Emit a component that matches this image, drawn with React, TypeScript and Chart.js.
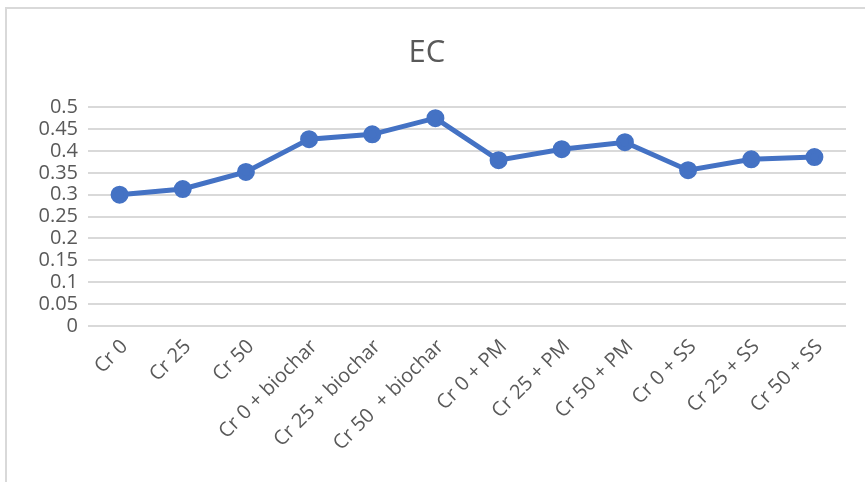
import React, { useEffect, useRef } from "react";
import { Chart, registerables } from "chart.js";

Chart.register(...registerables);

const categories = [
  "Cr 0",
  "Cr 25",
  "Cr 50",
  "Cr 0 + biochar",
  "Cr 25 + biochar",
  "Cr 50  + biochar",
  "Cr 0 + PM",
  "Cr 25 + PM",
  "Cr 50 + PM",
  "Cr 0 + SS",
  "Cr 25 + SS",
  "Cr 50 + SS",
];
const ecValues = [0.3, 0.313, 0.352, 0.427, 0.438, 0.475, 0.379, 0.404, 0.42, 0.356, 0.381, 0.386];
const titleText = "EC";
const yMin = 0;
const yMax = 0.5;
const yStep = 0.05;

const FONT = "'Open Sans', 'Noto Sans', sans-serif";

export default function App() {
  const ref = useRef<HTMLCanvasElement | null>(null);
  useEffect(() => {
    if (!ref.current) return;
    const chart = new Chart(ref.current, {
      type: "line",
      data: {
        labels: categories,
        datasets: [
          {
            label: titleText,
            data: ecValues,
            borderColor: "#4472c4",
            backgroundColor: "#4472c4",
            borderWidth: 5,
            pointRadius: 6.5,
            pointHoverRadius: 6.5,
            pointBackgroundColor: "#4472c4",
            pointBorderColor: "#4472c4",
            tension: 0,
          },
        ],
      },
      options: {
        animation: false,
        responsive: false,
        maintainAspectRatio: false,
        layout: { padding: { left: 8, right: 19, top: 0, bottom: 0 } },
        plugins: {
          legend: { display: false },
          tooltip: { enabled: false },
          title: {
            display: true,
            text: titleText,
            color: "#595959",
            font: { family: FONT, size: 31, weight: "normal" },
            padding: { top: 35, bottom: 35 },
          },
        },
        scales: {
          x: {
            offset: true,
            grid: { display: false, drawTicks: false },
            border: { display: false },
            ticks: {
              color: "#595959",
              font: { family: FONT, size: 20 },
              minRotation: 45,
              maxRotation: 45,
              autoSkip: false,
              padding: 9,
              labelOffset: 5,
            },
            afterFit: (s: any) => {
              s.height = 156;
            },
          },
          y: {
            min: yMin,
            max: yMax,
            grid: { color: "#d9d9d9", lineWidth: 2, drawTicks: false },
            border: { display: false },
            ticks: {
              stepSize: yStep,
              autoSkip: false,
              color: "#595959",
              font: { family: FONT, size: 20 },
              padding: 10,
              callback: (v: any) => String(Math.round(Number(v) * 100) / 100),
            },
            afterFit: (s: any) => {
              s.width = 80;
            },
          },
        },
      },
    });
    return () => chart.destroy();
  }, []);
  return (
    <div style={{ position: "fixed", left: 0, top: 0, width: 865, height: 482, background: "#fff", overflow: "hidden" }}>
      <div
        style={{
          position: "absolute",
          left: 5,
          top: 7,
          width: 900,
          height: 500,
          borderLeft: "2px solid #d9d9d9",
          borderTop: "2px solid #d9d9d9",
        }}
      />
      <canvas ref={ref} width={865} height={482} style={{ position: "absolute", left: 0, top: 0 }} />
    </div>
  );
}
